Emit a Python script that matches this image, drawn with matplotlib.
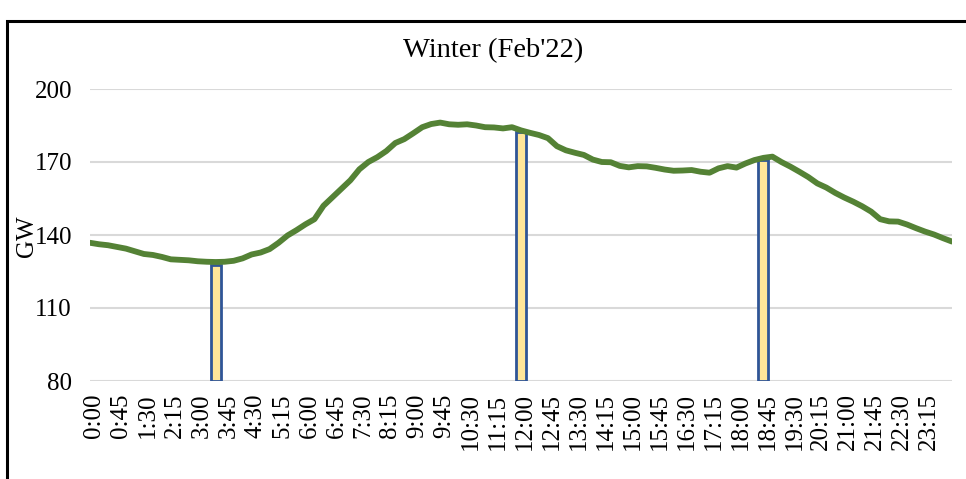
import matplotlib.pyplot as plt
import matplotlib.transforms as mtransforms
from matplotlib.patches import Rectangle

# 15-minute demand profile, 0:00 to 24:00 (GW)
demand = [136.8, 136.2, 135.8, 135.1, 134.4, 133.3, 132.2, 131.8, 131.0, 130.0,
          129.8, 129.6, 129.2, 129.0, 128.9, 129.0, 129.4, 130.4, 132.0, 132.8,
          134.2, 136.8, 139.8, 142.0, 144.4, 146.5, 152.0, 155.5, 159.0, 162.5,
          167.0, 170.0, 172.0, 174.5, 177.8, 179.4, 181.8, 184.3, 185.6, 186.2,
          185.5, 185.3, 185.5, 185.0, 184.3, 184.2, 183.8, 184.3, 183.0, 182.0,
          181.1, 179.8, 176.5, 174.8, 173.8, 172.9, 171.0, 170.0, 169.9, 168.4,
          167.8, 168.3, 168.2, 167.6, 166.9, 166.4, 166.5, 166.7, 166.0, 165.6,
          167.4, 168.3, 167.7, 169.4, 170.8, 171.7, 172.2, 170.0, 168.1, 166.0,
          163.8, 161.2, 159.5, 157.3, 155.4, 153.7, 151.8, 149.6, 146.5, 145.6,
          145.5, 144.3, 142.8, 141.4, 140.2, 138.7, 137.3]
hours = [i * 0.25 for i in range(len(demand))]

# marked time slots
bar_hours = [3.5, 12.0, 18.75]
bar_values = [127.7, 182.5, 170.8]

tick_hours = [i * 0.75 for i in range(32)]
tick_labels = ["{}:{:02d}".format(int(h), int(round((h % 1) * 60))) for h in tick_hours]

plt.rcParams['font.family'] = ['Liberation Serif', 'DejaVu Serif']

fig = plt.figure(figsize=(9.66, 4.79), dpi=100)
ax = fig.add_axes([90 / 966, 1 - 381 / 479, 862 / 966, 292 / 479])

ax.bar(bar_hours, [v - 80 for v in bar_values], bottom=80, width=0.28,
       color='#FFE699', edgecolor='#2F5597', linewidth=2.0, zorder=3)
ax.plot(hours, demand, color='#548235', linewidth=4.2, solid_capstyle='round', zorder=4)

ax.set_xlim(0, 24)
ax.set_ylim(80, 200)
ax.set_yticks([80, 110, 140, 170, 200])
ax.set_xticks(tick_hours)
ax.set_xticklabels(tick_labels, rotation=90, fontsize=18)
ax.tick_params(axis='y', labelsize=18, length=0, pad=13)
ax.tick_params(axis='x', length=0, pad=9)
ax.grid(axis='y', color='#D9D9D9', linewidth=1.5, zorder=0)
ax.set_axisbelow(True)
for s in ax.spines.values():
    s.set_visible(False)

# nudge the rotated labels a few pixels right, like the original
shift = mtransforms.ScaledTranslation(4 / 100, 0, fig.dpi_scale_trans)
for lbl in ax.get_xticklabels():
    lbl.set_transform(lbl.get_transform() + shift)

fig.text(27 / 966, 1 - 236 / 479, 'GW', rotation=90, fontsize=18, ha='center', va='center')
fig.text(493 / 966, 1 - 51 / 479, "Winter (Feb'22)", fontsize=20.5, ha='center', va='center')

# outer frame (cut off at right and bottom)
top = 1 - 21 / 479
fig.patches.append(Rectangle((7 / 966, -0.2), 1.2, top + 0.2, transform=fig.transFigure,
                             fill=False, edgecolor='black', linewidth=2.2, clip_on=False))

fig.savefig('out.png', dpi=100)
